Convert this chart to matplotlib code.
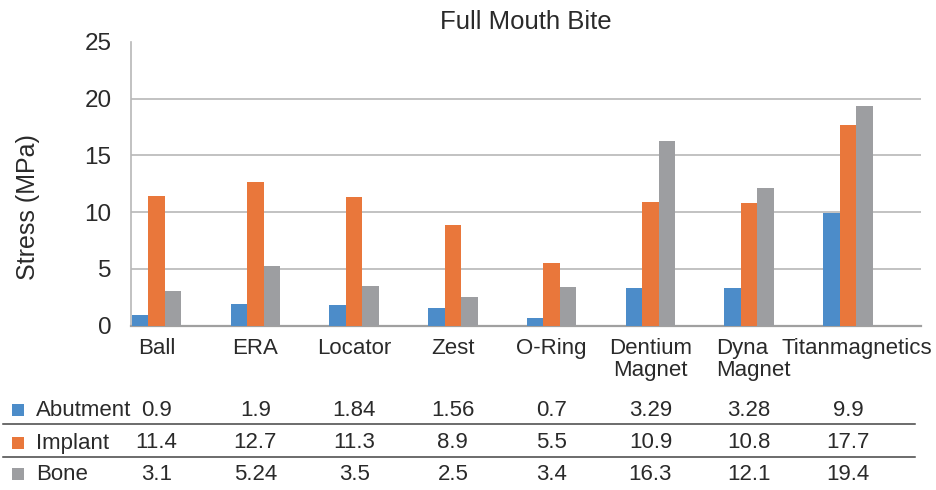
import matplotlib.pyplot as plt
from matplotlib.patches import Rectangle
from matplotlib.lines import Line2D
import matplotlib.transforms as mtransforms

plt.rcParams['font.family'] = ['Liberation Sans', 'DejaVu Sans']

categories = ['Ball', 'ERA', 'Locator', 'Zest', 'O-Ring', 'Dentium\nMagnet', 'Dyna\nMagnet', 'Titanmagnetics']
series = ['Abutment', 'Implant', 'Bone']
abutment = [0.9, 1.9, 1.84, 1.56, 0.7, 3.29, 3.28, 9.9]
implant = [11.4, 12.7, 11.3, 8.9, 5.5, 10.9, 10.8, 17.7]
bone = [3.1, 5.24, 3.5, 2.5, 3.4, 16.3, 12.1, 19.4]
abutment_txt = ['0.9', '1.9', '1.84', '1.56', '0.7', '3.29', '3.28', '9.9']
implant_txt = ['11.4', '12.7', '11.3', '8.9', '5.5', '10.9', '10.8', '17.7']
bone_txt = ['3.1', '5.24', '3.5', '2.5', '3.4', '16.3', '12.1', '19.4']
colors = ['#4c8cc9', '#e9773b', '#9d9ea1']

W, H = 936, 490
fig = plt.figure(figsize=(W / 100, H / 100), dpi=100)
ax = fig.add_axes([131 / W, 1 - 325.7 / H, (921 - 131) / W, (325.7 - 42) / H])

text_color = '#2a2a2a'
fs = 16

bw = 0.167
x = list(range(len(categories)))
for k, vals in enumerate([abutment, implant, bone]):
    ax.bar([i + (k - 1) * bw for i in x], vals, width=bw, color=colors[k], zorder=3)

ax.set_xlim(-0.258, 7.739)
ax.set_ylim(0, 25)
ax.set_yticks([0, 5, 10, 15, 20, 25])
ax.set_yticklabels(['0', '5', '10', '15', '20', '25'])
ax.tick_params(axis='y', length=0, pad=14, labelsize=17.5, labelcolor=text_color)
ax.set_xticks([])
for y in [5, 10, 15, 20]:
    ax.axhline(y, color='#b8b8b8', lw=1.2, zorder=1)
for s in ['top', 'right']:
    ax.spines[s].set_visible(False)
ax.spines['left'].set_color('#b8b8b8')
ax.spines['left'].set_linewidth(1.2)
ax.spines['bottom'].set_color('#a0a0a0')
ax.spines['bottom'].set_linewidth(1.6)

fig.text(526 / W, 1 - 22 / H, 'Full Mouth Bite', ha='center', va='center', fontsize=18.5, color=text_color)
fig.text(28 / W, 1 - 207 / H, 'Stress (MPa)', rotation=90, ha='center', va='center', fontsize=18, color=text_color)

# category labels and data table, x from data, y from figure
trans = mtransforms.blended_transform_factory(ax.transData, fig.transFigure)
label_shift = [0, 0, 0, 0, 0, 0, 0.04, 0.09]
label_align = ['center'] * 6 + ['left', 'center']
for i, c in enumerate(categories):
    ax.text(i + label_shift[i], 1 - 338 / H, c, transform=trans, ha='center', va='top', fontsize=fs,
            color=text_color, linespacing=1.05, multialignment=label_align[i], clip_on=False)

row_y = [410, 443, 474]
for r, (name, txts) in enumerate(zip(series, [abutment_txt, implant_txt, bone_txt])):
    yf = 1 - row_y[r] / H
    fig.patches.append(Rectangle((12 / W, yf - 6 / H), 12 / W, 12 / H, transform=fig.transFigure,
                                 facecolor=colors[r], edgecolor='none'))
    fig.text(36 / W, yf, name, ha='left', va='center', fontsize=fs, color=text_color)
    for i, t in enumerate(txts):
        ax.text(i, yf, t, transform=trans, ha='center', va='center', fontsize=fs,
                color=text_color, clip_on=False)

for ly in [424, 457]:
    fig.lines.append(Line2D([3 / W, 915 / W], [1 - ly / H, 1 - ly / H], transform=fig.transFigure,
                            color='#444444', lw=1.1))

fig.savefig('out.png', dpi=100)
